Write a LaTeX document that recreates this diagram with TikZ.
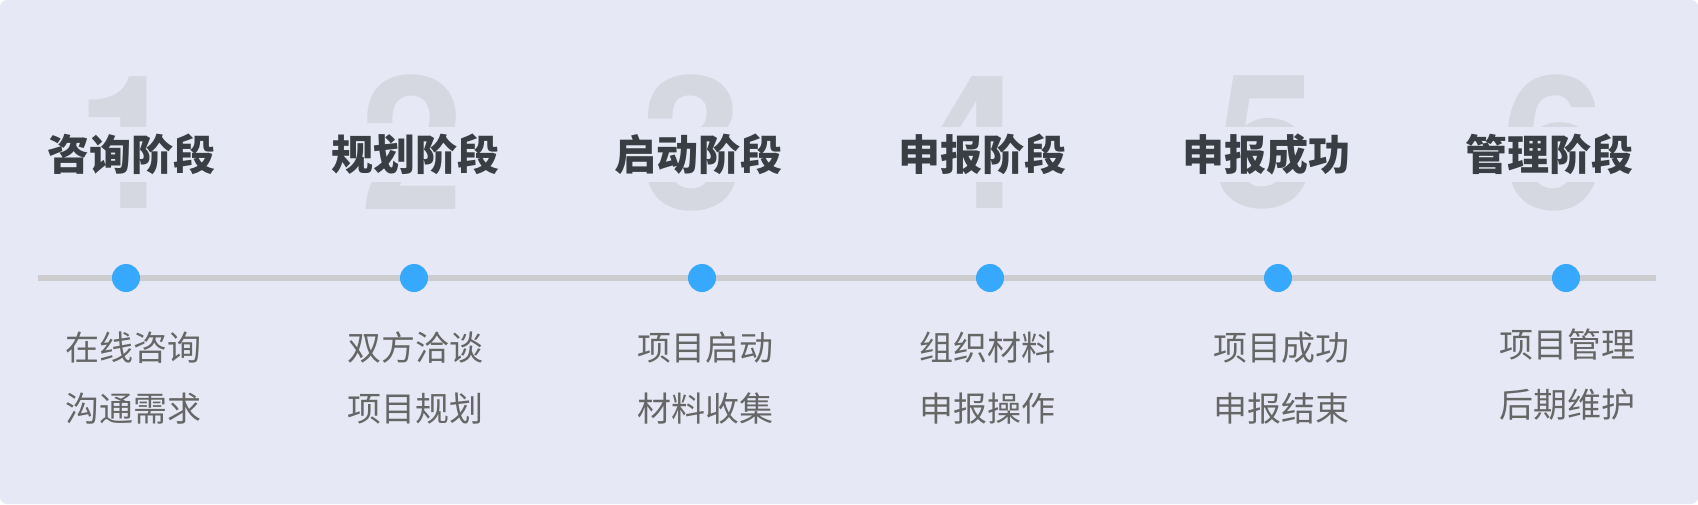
\documentclass[tikz,border=0pt]{standalone}
\usepackage{fontspec}
\newfontfamily\cjk{Noto Sans CJK SC}
\newfontfamily\numfont{TeX Gyre Heros}
\definecolor{bgc}{RGB}{230,233,245}
\definecolor{numc}{RGB}{213,216,224}
\definecolor{titlec}{RGB}{57,62,68}
\definecolor{subc}{RGB}{102,102,102}
\definecolor{linec}{RGB}{205,205,208}
\definecolor{dotc}{RGB}{54,168,254}
\tikzset{
  bignum/.style={text=numc, inner sep=0pt, font=\numfont\bfseries\fontsize{186}{186}\selectfont},
  stagetitle/.style={fill=bgc, text=titlec, inner xsep=4pt, inner ysep=0pt, minimum height=55pt,
    text height=36pt, text depth=5pt, font=\cjk\bfseries\fontsize{42}{42}\selectfont},
  subline/.style={text=subc, inner sep=0pt, text height=29pt, text depth=4pt, font=\cjk\fontsize{34}{34}\selectfont},
  dot/.style={circle, fill=dotc, minimum size=28pt, inner sep=0pt},
  track/.style={draw=linec, line width=6pt}
}
\begin{document}
\begin{tikzpicture}[x=1pt, y=-1pt]
\useasboundingbox (0,0) rectangle (1698,504);
\fill[white] (0,0) rectangle (1698,504);
\fill[bgc, rounded corners=7pt] (0,0) rectangle (1698,504);
% big numbers
\node[bignum] (num1) at (128,142.5) {1};
\node[bignum] (num2) at (412,142.5) {2};
\node[bignum] (num3) at (693,142.5) {3};
\node[bignum] (num4) at (971,142.5) {4};
\node[bignum] (num5) at (1265,142.5) {5};
\node[bignum] (num6) at (1553,142.5) {6};
% titles
\node[stagetitle] (t1) at (131,154.5) {咨询阶段};
\node[stagetitle] (t2) at (415,154.5) {规划阶段};
\node[stagetitle] (t3) at (698,154.5) {启动阶段};
\node[stagetitle] (t4) at (982,154.5) {申报阶段};
\node[stagetitle] (t5) at (1266,154.5) {申报成功};
\node[stagetitle] (t6) at (1549,154.5) {管理阶段};
% timeline
\coordinate (ls) at (38,278);
\coordinate (le) at (1656,278);
\draw[track] (ls) -- (le);
\foreach \i/\x in {1/126,2/414,3/702,4/990,5/1278,6/1566}{
  \node[dot] (d\i) at (\x,278) {};
}
% sub texts
\node[subline] (s1a) at (133,347.5) {在线咨询};
\node[subline] (s1b) at (133,408.5) {沟通需求};
\node[subline] (s2a) at (415,347.5) {双方洽谈};
\node[subline] (s2b) at (415,408.5) {项目规划};
\node[subline] (s3a) at (705,347.5) {项目启动};
\node[subline] (s3b) at (705,408.5) {材料收集};
\node[subline] (s4a) at (987,347.5) {组织材料};
\node[subline] (s4b) at (987,408.5) {申报操作};
\node[subline] (s5a) at (1281,347.5) {项目成功};
\node[subline] (s5b) at (1281,408.5) {申报结束};
\node[subline] (s6a) at (1567,345) {项目管理};
\node[subline] (s6b) at (1567,405) {后期维护};
\end{tikzpicture}
\end{document}
